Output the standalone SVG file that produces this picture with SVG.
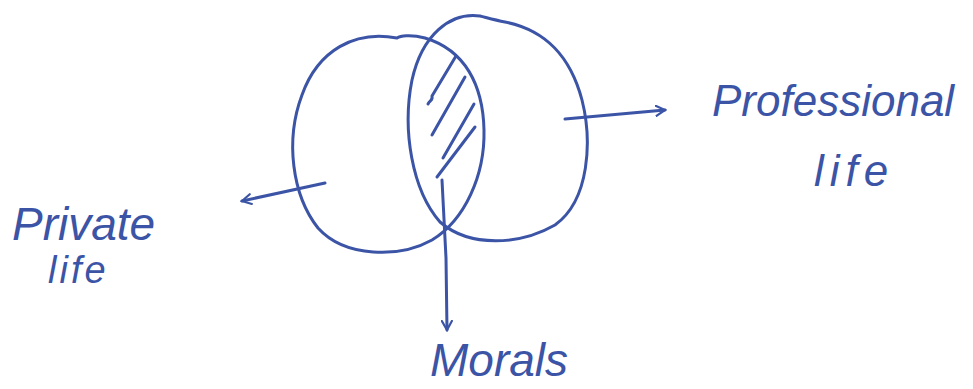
<svg xmlns="http://www.w3.org/2000/svg" width="973" height="389" viewBox="0 0 973 389">
<defs>
<style>
.ink{fill:none;stroke:#3b54a6;stroke-width:3;stroke-linecap:round;stroke-linejoin:round}
.lbl{font-family:"Liberation Sans",Arial,sans-serif;font-style:italic;fill:#3b54a6}
</style>
<marker id="ah" viewBox="0 0 12 12" refX="10" refY="6" markerWidth="12" markerHeight="12" markerUnits="userSpaceOnUse" orient="auto">
<path d="M1,1 L10,6 L1,11" fill="none" stroke="#3b54a6" stroke-width="2.2" stroke-linecap="round"/>
</marker>
</defs>
<rect width="973" height="389" fill="#ffffff"/>
<g id="private-circle">
<path class="ink" d="M397,38 C355,30 318,50 302,95 C285,140 292,195 318,228 C345,258 400,258 432,240 C465,220 485,175 484,130 C483,85 465,50 425,38 C410,34 400,36 397,38"/>
</g>
<g id="professional-circle">
<path class="ink" d="M480,16 C450,12 422,35 412,80 C402,130 412,190 440,222 C470,248 520,245 555,225 C590,200 592,140 582,100 C570,55 545,30 505,22 C495,20 488,18 480,16"/>
</g>
<g id="morals-hatch">
<path class="ink" d="M428,104 C430,100 433,101 432,96 L456,56"/>
<path class="ink" d="M432,135 L465,77"/>
<path class="ink" d="M443,158 L474,104"/>
<path class="ink" d="M437,177 L475,127"/>
</g>
<g id="connectors">
<path class="ink" d="M565,119 L665,110" marker-end="url(#ah)"/>
<path class="ink" d="M325,183 L242,201" marker-end="url(#ah)"/>
<path class="ink" d="M442,180 L446,258 L447,330" marker-end="url(#ah)"/>
</g>
<g id="label-private">
<text class="lbl" x="12" y="240" font-size="46">Private</text>
<text class="lbl" x="48" y="283" font-size="38" letter-spacing="3">life</text>
</g>
<g id="label-professional">
<text class="lbl" x="712" y="116" font-size="44">Professional</text>
<text class="lbl" x="814" y="186" font-size="44" letter-spacing="6">life</text>
</g>
<g id="label-morals">
<text class="lbl" x="430" y="376" font-size="46">Morals</text>
</g>
</svg>
